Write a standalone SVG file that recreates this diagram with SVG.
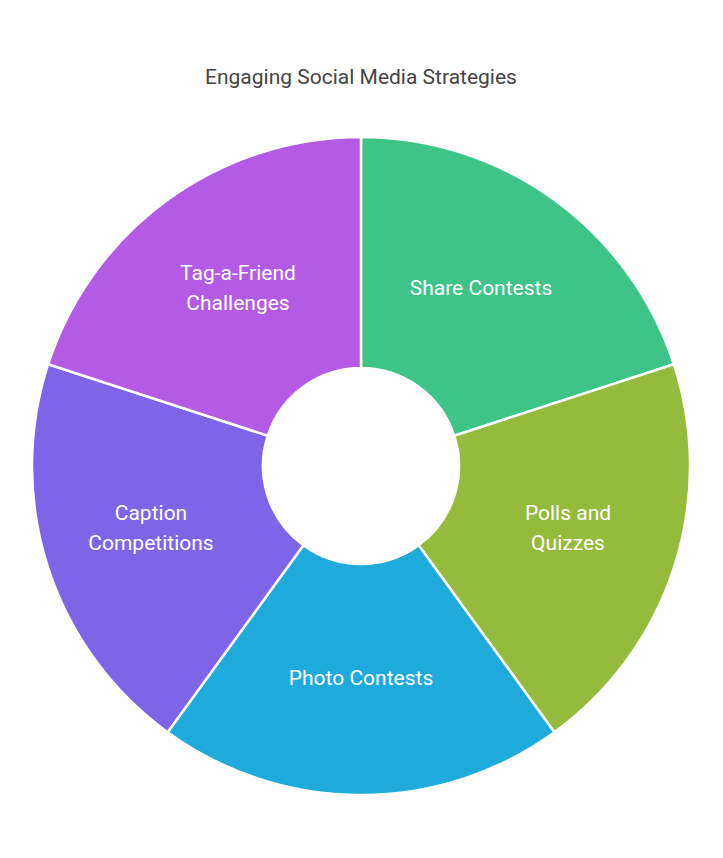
<svg xmlns="http://www.w3.org/2000/svg" width="723" height="858" viewBox="0 0 723 858">
<style>
.s{stroke:#fff;stroke-width:2.5}
.t{font-family:Roboto,"Liberation Sans",sans-serif;font-size:21px;fill:#fff;text-anchor:middle}
.title{font-family:Roboto,"Liberation Sans",sans-serif;font-size:21px;fill:#444;text-anchor:middle}
</style>
<rect width="723" height="858" fill="#fff"/>
<text class="title" x="361" y="84">Engaging Social Media Strategies</text>
<g id="share">
<path class="s" fill="#3EC487" d="M361,137 A329,329 0 0 1 673.9,364.3 L454.2,435.7 A98,98 0 0 0 361,368 Z"/>
<text class="t" x="481" y="295">Share Contests</text>
</g>
<g id="polls">
<path class="s" fill="#95BB3C" d="M673.9,364.3 A329,329 0 0 1 554.4,732.2 L418.6,545.3 A98,98 0 0 0 454.2,435.7 Z"/>
<text class="t" x="568" y="520">Polls and</text>
<text class="t" x="568" y="550">Quizzes</text>
</g>
<g id="photo">
<path class="s" fill="#1EAADB" d="M554.4,732.2 A329,329 0 0 1 167.6,732.2 L303.4,545.3 A98,98 0 0 0 418.6,545.3 Z"/>
<text class="t" x="361" y="685">Photo Contests</text>
</g>
<g id="caption">
<path class="s" fill="#7E65E8" d="M167.6,732.2 A329,329 0 0 1 48.1,364.3 L267.8,435.7 A98,98 0 0 0 303.4,545.3 Z"/>
<text class="t" x="151" y="520">Caption</text>
<text class="t" x="151" y="550">Competitions</text>
</g>
<g id="tag">
<path class="s" fill="#B45BE5" d="M48.1,364.3 A329,329 0 0 1 361,137 L361,368 A98,98 0 0 0 267.8,435.7 Z"/>
<text class="t" x="238" y="280">Tag-a-Friend</text>
<text class="t" x="238" y="310">Challenges</text>
</g>
<g id="connectors"></g>
</svg>
